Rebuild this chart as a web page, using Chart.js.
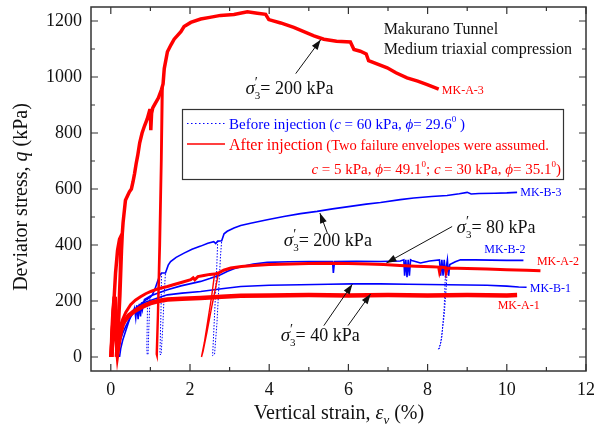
<!DOCTYPE html>
<html>
<head>
<meta charset="utf-8">
<script src="https://cdn.jsdelivr.net/npm/chart.js@4.4.0/dist/chart.umd.min.js"></script>
<style>
  html, body { margin: 0; padding: 0; background: #fff; }
</style>
</head>
<body>
<canvas id="chart" width="596" height="435"></canvas>
<script>
// tick labels
const xTicks = [0, 2, 4, 6, 8, 10, 12];
const yTicks = [0, 200, 400, 600, 800, 1000, 1200];

// [vertical strain %, deviator stress kPa]
const mkA3 = [[0,0],[0.04,90],[0.08,200],[0.12,300],[0.17,380],[0.22,420],[0.26,432],[0.24,300],[0.2,150],[0.16,30],[0.14,0],[0.18,80],[0.23,220],[0.27,380],[0.29,440],[0.31,480],[0.34,520],[0.37,560],[0.42,575],[0.47,590],[0.52,600],[0.56,625],[0.6,655],[0.64,690],[0.68,720],[0.73,765],[0.79,800],[0.85,825],[0.92,850],[0.98,880],[1.0,880],[1.01,810],[1.03,870],[1.06,890],[1.12,905],[1.2,925],[1.28,955],[1.32,975],[1.35,1030],[1.43,1090],[1.52,1115],[1.6,1135],[1.77,1162],[1.85,1180],[2.02,1195],[2.27,1207],[2.5,1213],[2.77,1220],[3.11,1223],[3.45,1233],[3.7,1228],[3.91,1224],[3.99,1205],[4.29,1193],[4.62,1177],[5.13,1147],[5.38,1135],[5.7,1128],[6.05,1125],[6.14,1098],[6.3,1092],[6.45,1082],[6.51,1058],[6.98,1033],[7.2,1015],[7.48,997],[7.75,985],[7.99,973],[8.28,957]];
const mkA3Loops = [
  [[1.28,955],[1.26,700],[1.22,400],[1.18,150],[1.15,10],[1.17,0],[1.2,150],[1.25,400],[1.29,700],[1.32,975]]
];
const mkA2 = [[0,0],[0.03,80],[0.06,160],[0.09,215],[0.11,170],[0.13,90],[0.15,30],[0.18,40],[0.22,90],[0.25,115],[0.3,135],[0.38,160],[0.5,187],[0.62,203],[0.75,215],[0.88,226],[1.01,234],[1.2,244],[1.43,252],[1.6,259],[1.8,267],[2.02,276],[2.08,283],[2.12,276],[2.2,287],[2.35,291],[2.5,295],[2.62,296],[2.72,300],[2.85,310],[3.03,318],[3.3,323],[3.6,327],[4,330],[4.54,332],[5,334],[5.5,335],[6,334],[6.5,332],[6.89,330],[7.3,327],[7.7,324],[8.1,322],[8.28,321],[8.3,305],[8.33,321],[8.45,319],[8.47,303],[8.5,318],[9,316],[9.5,314],[10,312],[10.5,310],[10.85,308]];
const mkA2Loops = [
  [[2.62,296],[2.55,220],[2.45,130],[2.36,50],[2.29,0],[2.33,20],[2.43,90],[2.55,180],[2.65,250],[2.72,300]]
];
const mkA1 = [[0.02,0],[0.04,90],[0.07,170],[0.1,215],[0.12,150],[0.14,70],[0.17,20],[0.2,50],[0.25,90],[0.3,115],[0.34,127],[0.45,148],[0.59,163],[0.8,180],[1.01,193],[1.2,200],[1.43,205],[1.8,208],[2.27,211],[2.8,215],[3.28,219],[4,220],[5,221],[6,220],[7,221],[8,220],[9,221],[10,220],[10.26,221]];
const mkB3 = [[0.18,0],[0.2,30],[0.24,60],[0.3,85],[0.38,110],[0.47,135],[0.57,158],[0.67,175],[0.78,192],[0.88,203],[0.93,208],[0.99,212],[1.05,222],[1.12,245],[1.18,270],[1.24,292],[1.28,300],[1.38,300],[1.45,328],[1.51,341],[1.65,356],[1.85,371],[2.05,385],[2.27,396],[2.45,406],[2.6,412],[2.65,405],[2.7,414],[2.8,415],[2.86,440],[2.94,449],[3.11,461],[3.28,470],[3.53,478],[3.95,490],[4.37,502],[4.79,512],[5.21,520],[5.6,529],[6.05,538],[6.45,546],[6.81,552],[7.31,562],[7.65,568],[8.1,573],[8.49,577],[8.8,583],[9.0,588],[9.1,582],[9.3,584],[9.7,585],[10.0,586],[10.26,588]];
const mkB3Loops = [
  [[0.93,208],[0.92,120],[0.91,30],[0.92,8],[0.94,10],[0.96,100],[0.99,212]],
  [[1.28,300],[1.27,180],[1.25,60],[1.24,10],[1.27,8],[1.31,100],[1.35,230],[1.38,300]],
  [[2.7,414],[2.67,300],[2.62,150],[2.58,30],[2.57,5],[2.62,10],[2.68,120],[2.74,280],[2.77,360],[2.8,415]]
];
const mkB2 = [[0.22,0],[0.25,30],[0.3,60],[0.38,95],[0.45,125],[0.5,145],[0.55,155],[0.6,175],[0.63,140],[0.66,185],[0.69,135],[0.72,190],[0.75,145],[0.78,195],[0.8,170],[0.85,205],[1.0,218],[1.18,228],[1.43,240],[1.77,254],[2.02,262],[2.27,270],[2.5,280],[2.77,294],[2.95,306],[3.11,315],[3.28,322],[3.6,332],[3.95,338],[4.5,340],[5.0,341],[5.6,341],[5.62,300],[5.65,341],[6.2,342],[6.81,341],[7.31,343],[7.4,347],[7.42,290],[7.45,347],[7.48,285],[7.51,347],[7.54,290],[7.57,347],[7.6,345],[7.82,336],[8.05,343],[8.3,347],[8.33,290],[8.36,347],[8.39,290],[8.42,347],[8.45,300],[8.5,347],[8.53,290],[8.56,330],[8.7,340],[8.83,347],[9.2,347],[9.6,346],[10,345],[10.42,345]];
const mkB2Loops = [
  [[8.45,300],[8.42,180],[8.36,70],[8.3,30],[8.27,26],[8.33,50],[8.42,150],[8.48,270],[8.5,347]]
];
const mkB1 = [[0.15,0],[0.18,40],[0.22,75],[0.3,110],[0.4,140],[0.55,165],[0.7,182],[0.85,195],[1.0,202],[1.2,212],[1.43,222],[1.8,228],[2.27,234],[2.8,244],[3.28,252],[4,256],[4.79,258],[5.5,260],[6.1,261],[6.81,261],[7.5,260],[8,259],[8.5,258],[9,257],[9.5,256],[10,253],[10.3,250],[10.5,249]];

const RED = '#ff0000', BLUE = '#0000ff';
const SERIF = '"Liberation Serif", "Times New Roman", serif';
const F = (size, style) => (style ? style + ' ' : '') + size + 'px ' + SERIF;

const toXY = arr => arr.map(p => ({ x: p[0], y: p[1] }));
function curve(data, color, width, dash) {
  return { data: toXY(data), borderColor: color, backgroundColor: color, borderWidth: width,
    borderDash: dash || [], showLine: true, pointRadius: 0, tension: 0, fill: false };
}

// first dataset is drawn on top
const datasets = [
  curve(mkA3, RED, 3.5),
  ...mkA3Loops.map(l => curve(l, RED, 1.6)),
  curve(mkA2, RED, 3),
  ...mkA2Loops.map(l => curve(l, RED, 1.4)),
  curve(mkA1, RED, 4.5),
  curve(mkB3, BLUE, 1.6),
  ...mkB3Loops.map(l => curve(l, BLUE, 1, [1.5, 1.5])),
  curve(mkB2, BLUE, 1.6),
  ...mkB2Loops.map(l => curve(l, BLUE, 1, [1.5, 1.5])),
  curve(mkB1, BLUE, 1.6)
];

function rich(ctx, x, y, parts, align) {
  const w = p => {
    if (p.stack) return Math.max(...p.stack.map(s => { ctx.font = s.f; return ctx.measureText(s.t).width; }));
    ctx.font = p.f; return ctx.measureText(p.t).width;
  };
  const total = parts.reduce((s, p) => s + w(p), 0);
  let cx = align === 'right' ? x - total : align === 'center' ? x - total / 2 : x;
  ctx.textAlign = 'left';
  ctx.textBaseline = 'alphabetic';
  parts.forEach(p => {
    const pw = w(p);
    if (p.stack) {
      p.stack.forEach(s => { ctx.font = s.f; ctx.fillText(s.t, cx, y + s.dy); });
    } else {
      ctx.font = p.f;
      ctx.fillText(p.t, cx, y + (p.dy || 0));
    }
    cx += pw;
  });
}

function arrow(ctx, x1, y1, x2, y2) {
  ctx.beginPath(); ctx.moveTo(x1, y1); ctx.lineTo(x2, y2); ctx.stroke();
  const a = Math.atan2(y2 - y1, x2 - x1), L = 10, W = 3.5;
  ctx.beginPath();
  ctx.moveTo(x2, y2);
  ctx.lineTo(x2 - L * Math.cos(a) + W * Math.sin(a), y2 - L * Math.sin(a) - W * Math.cos(a));
  ctx.lineTo(x2 - L * Math.cos(a) - W * Math.sin(a), y2 - L * Math.sin(a) + W * Math.cos(a));
  ctx.closePath(); ctx.fill();
}

const sigma = v => [
  { t: 'σ', f: F(19, 'italic') },
  { stack: [{ t: '\u2032', f: F(14), dy: -7 }, { t: '3', f: F(11), dy: 5 }] },
  { t: '= ' + v + ' kPa', f: F(18) }
];

// annotation anchors in data units
const notes = [
  { label: '200', at: [3.40, 940], arrows: [[4.67, 1012, 5.30, 1133]] },
  { label: '200', at: [4.37, 395], arrows: [[5.47, 442, 5.28, 514]] },
  { label: '80', at: [8.73, 443], arrows: [[8.62, 466, 6.96, 336]] },
  { label: '40', at: [4.29, 56], arrows: [[5.38, 112, 6.10, 260], [5.99, 112, 6.56, 225]] }
];
const tags = [
  { t: 'MK-A-3', c: RED, at: [8.36, 952] },
  { t: 'MK-B-3', c: BLUE, at: [10.34, 588] },
  { t: 'MK-B-2', c: BLUE, at: [9.43, 381] },
  { t: 'MK-A-2', c: RED, at: [10.76, 339] },
  { t: 'MK-B-1', c: BLUE, at: [10.58, 243] },
  { t: 'MK-A-1', c: RED, at: [9.77, 183] }
];

const decor = {
  id: 'decor',
  afterDraw(chart) {
    const ctx = chart.ctx, xs = chart.scales.x, ys = chart.scales.y, a = chart.chartArea;
    const px = v => xs.getPixelForValue(v), py = v => ys.getPixelForValue(v);
    ctx.save();

    // frame with inward ticks
    ctx.strokeStyle = '#333'; ctx.lineWidth = 1.5;
    ctx.strokeRect(a.left, a.top, a.right - a.left, a.bottom - a.top);
    ctx.lineWidth = 1.2;
    ctx.beginPath();
    for (let v = 0; v <= 12; v++) {
      const L = v % 2 === 0 ? 7 : 4, x = px(v);
      ctx.moveTo(x, a.bottom); ctx.lineTo(x, a.bottom - L);
      ctx.moveTo(x, a.top); ctx.lineTo(x, a.top + L);
    }
    for (let v = 0; v <= 1200; v += 100) {
      const L = v % 200 === 0 ? 7 : 4, y = py(v);
      ctx.moveTo(a.left, y); ctx.lineTo(a.left + L, y);
      ctx.moveTo(a.right, y); ctx.lineTo(a.right - L, y);
    }
    ctx.stroke();

    // axis titles
    ctx.fillStyle = '#111';
    rich(ctx, 339, 419, [
      { t: 'Vertical strain, ', f: F(20) }, { t: 'ε', f: F(20, 'italic') },
      { t: 'v', f: F(13, 'italic'), dy: 5 }, { t: ' (%)', f: F(20) }
    ], 'center');
    ctx.save();
    ctx.translate(27, 197); ctx.rotate(-Math.PI / 2);
    rich(ctx, 0, 0, [
      { t: 'Deviator stress, ', f: F(20) }, { t: 'q', f: F(20, 'italic') }, { t: ' (kPa)', f: F(20) }
    ], 'center');
    ctx.restore();

    // header text
    rich(ctx, px(6.89), 34, [{ t: 'Makurano Tunnel', f: F(16) }]);
    rich(ctx, px(6.89), 54, [{ t: 'Medium triaxial compression', f: F(16) }]);

    // confining pressure notes
    ctx.strokeStyle = '#111'; ctx.lineWidth = 1;
    notes.forEach(n => {
      ctx.fillStyle = '#111';
      rich(ctx, px(n.at[0]), py(n.at[1]), sigma(n.label));
      n.arrows.forEach(r => arrow(ctx, px(r[0]), py(r[1]), px(r[2]), py(r[3])));
    });

    // specimen tags
    tags.forEach(g => {
      ctx.fillStyle = g.c; ctx.font = F(12);
      ctx.textAlign = 'left'; ctx.textBaseline = 'middle';
      ctx.fillText(g.t, px(g.at[0]), py(g.at[1]));
    });

    // legend box
    ctx.fillStyle = '#fff'; ctx.fillRect(182, 109, 381, 70);
    ctx.strokeStyle = '#333'; ctx.lineWidth = 1.2; ctx.strokeRect(182.5, 109.5, 381, 70);
    ctx.strokeStyle = BLUE; ctx.lineWidth = 1.2; ctx.setLineDash([1.5, 2.5]);
    ctx.beginPath(); ctx.moveTo(187, 123.5); ctx.lineTo(225, 123.5); ctx.stroke();
    ctx.setLineDash([]);
    ctx.strokeStyle = RED; ctx.lineWidth = 1.4;
    ctx.beginPath(); ctx.moveTo(187, 144); ctx.lineTo(225, 144); ctx.stroke();

    ctx.fillStyle = BLUE;
    rich(ctx, 229, 128.5, [
      { t: 'Before injection', f: F(15) }, { t: ' (', f: F(14) }, { t: 'c', f: F(15, 'italic') },
      { t: ' = 60 kPa, ', f: F(15) }, { t: 'ϕ', f: F(15, 'italic') }, { t: '= 29.6', f: F(15) },
      { t: '0', f: F(9), dy: -7 }, { t: ' )', f: F(15) }
    ]);
    ctx.fillStyle = RED;
    rich(ctx, 229, 149.5, [
      { t: 'After injection', f: F(16) }, { t: ' (Two failure envelopes were assumed.', f: F(14.5) }
    ]);
    rich(ctx, 561, 174, [
      { t: 'c', f: F(15, 'italic') }, { t: ' = 5 kPa, ', f: F(15) }, { t: 'ϕ', f: F(15, 'italic') },
      { t: '= 49.1', f: F(15) }, { t: '0', f: F(9), dy: -7 }, { t: '; ', f: F(15) },
      { t: 'c', f: F(15, 'italic') }, { t: ' = 30 kPa, ', f: F(15) }, { t: 'ϕ', f: F(15, 'italic') },
      { t: '= 35.1', f: F(15) }, { t: '0', f: F(9), dy: -7 }, { t: ')', f: F(15) }
    ], 'right');

    ctx.restore();
  }
};

new Chart(document.getElementById('chart'), {
  type: 'scatter',
  data: { datasets },
  options: {
    responsive: false,
    animation: false,
    layout: { padding: { top: 7, right: 10, left: 0, bottom: 0 } },
    plugins: { legend: { display: false }, tooltip: { enabled: false } },
    scales: {
      x: {
        type: 'linear', min: -0.5, max: 12,
        afterBuildTicks: s => { s.ticks = xTicks.map(v => ({ value: v })); },
        afterFit: s => { s.height = 64; s.paddingLeft = 0; s.paddingRight = 0; },
        grid: { display: false, drawTicks: false },
        border: { display: false },
        ticks: { font: { family: SERIF, size: 18 }, color: '#111', padding: 8, maxRotation: 0,
          callback: v => String(v) }
      },
      y: {
        type: 'linear', min: -50, max: 1250,
        afterBuildTicks: s => { s.ticks = yTicks.map(v => ({ value: v })); },
        afterFit: s => { s.width = 91; s.paddingTop = 0; s.paddingBottom = 0; },
        grid: { display: false, drawTicks: false },
        border: { display: false },
        ticks: { font: { family: SERIF, size: 18 }, color: '#111', padding: 9,
          callback: v => String(v) }
      }
    }
  },
  plugins: [decor]
});
</script>
</body>
</html>
